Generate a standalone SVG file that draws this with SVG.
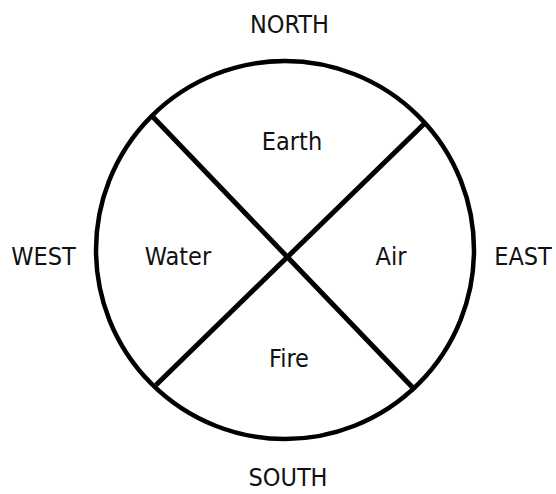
<svg xmlns="http://www.w3.org/2000/svg" width="556" height="494" viewBox="0 0 556 494">
<style>
text{font-family:"DejaVu Sans Condensed","Liberation Sans Narrow","Liberation Sans",sans-serif;font-size:25px;fill:#111;text-anchor:middle}
.ln{stroke:#000;stroke-width:5;fill:none;stroke-linecap:butt}
</style>
<rect width="556" height="494" fill="#fff"/>
<g id="circle"><circle cx="285" cy="250" r="189" fill="none" stroke="#000" stroke-width="4.5"/></g>
<g id="connectors">
<line class="ln" x1="153" y1="117" x2="415" y2="390"/>
<line class="ln" x1="426" y1="122" x2="156" y2="385"/>
</g>
<g id="north"><text x="289.5" y="33">NORTH</text></g>
<g id="south"><text x="288" y="486">SOUTH</text></g>
<g id="west"><text x="43.5" y="265">WEST</text></g>
<g id="east"><text x="523" y="265">EAST</text></g>
<g id="earth"><text x="292" y="150">Earth</text></g>
<g id="water"><text x="178" y="265">Water</text></g>
<g id="air"><text x="391" y="265">Air</text></g>
<g id="fire"><text x="289" y="367">Fire</text></g>
</svg>
